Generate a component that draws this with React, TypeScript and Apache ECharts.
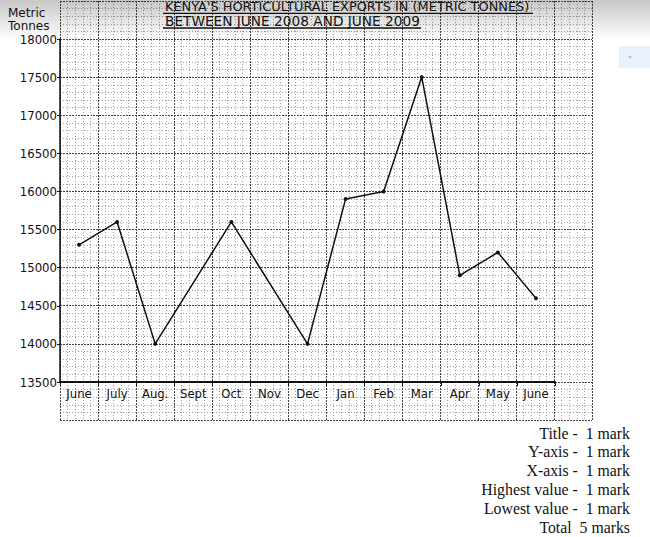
import React, { useEffect, useRef } from "react";
import * as echarts from "echarts";

const months = ["June", "July", "Aug.", "Sept", "Oct", "Nov", "Dec", "Jan", "Feb", "Mar", "Apr", "May", "June"];
const exports: (number | null)[] = [15300, 15600, 14000, null, 15600, null, 14000, 15900, 16000, 17500, 14900, 15200, 14600];
const yTicks = { min: 13500, max: 18000, step: 500 };
const titleLines = ["KENYA'S HORTICULTURAL EXPORTS IN (METRIC TONNES)", "BETWEEN JUNE 2008 AND JUNE 2009"];
const yAxisName = ["Metric", "Tonnes"];
const markLines = ["Title -  1 mark", "Y-axis -  1 mark", "X-axis -  1 mark", "Highest value -  1 mark", "Lowest value -  1 mark", "Total  5 marks"];

const FONT = "'DejaVu Sans Condensed', 'DejaVu Sans', sans-serif";
const TFONT = "'DejaVu Sans', sans-serif";

export default function App() {
  const ref = useRef<HTMLDivElement>(null);
  useEffect(() => {
    if (!ref.current) return;
    const chart = echarts.init(ref.current, null, { renderer: "svg" });
    const graphics: any[] = [
      {
        type: "rect",
        shape: { x: 0, y: 0, width: 650, height: 40 },
        style: {
          fill: new echarts.graphic.LinearGradient(0, 0, 0, 1, [
            { offset: 0, color: "rgba(0,0,0,0.22)" },
            { offset: 1, color: "rgba(0,0,0,0)" },
          ]),
        },
        z: 10,
        silent: true,
      },
      {
        type: "rect",
        shape: { x: 619, y: 46, width: 31, height: 22 },
        style: { fill: "#e9f1fb" },
        z: 10,
      },
      { type: "circle", shape: { cx: 630, cy: 57, r: 1.5 }, style: { fill: "#b8c4d2" }, z: 11 },
      {
        type: "text",
        x: 165,
        y: 6.6,
        style: { text: titleLines[0], font: `12.9px ${TFONT}`, fill: "#111", verticalAlign: "middle" },
        z: 12,
      },
      { type: "line", shape: { x1: 163, y1: 13.3, x2: 533, y2: 13.3 }, style: { stroke: "#111", lineWidth: 1.3 }, z: 12 },
      {
        type: "text",
        x: 165,
        y: 20.6,
        style: { text: titleLines[1], font: `13.7px ${TFONT}`, fill: "#111", verticalAlign: "middle" },
        z: 12,
      },
      { type: "line", shape: { x1: 163, y1: 28, x2: 421, y2: 28 }, style: { stroke: "#111", lineWidth: 1.3 }, z: 12 },
      ...yAxisName.map((t, i) => ({
        type: "text",
        x: 8,
        y: 13 + i * 13,
        style: { text: t, font: `12px ${TFONT}`, fill: "#111", verticalAlign: "middle" },
        z: 12,
      })),
      ...markLines.map((t, i) => ({
        type: "text",
        x: 630,
        y: 433 + i * 18.8,
        style: {
          text: t,
          font: "15.8px 'Liberation Serif', 'Times New Roman', serif",
          fill: "#111",
          align: "right",
          verticalAlign: "middle",
        },
        z: 12,
      })),
    ];

    chart.setOption({
      animation: false,
      backgroundColor: "#fff",
      grid: [
        { left: 60, right: 95, top: 39, bottom: 155 },
        { left: 60, width: 532, top: 1, height: 419 },
      ],
      xAxis: [
        {
          type: "category",
          gridIndex: 0,
          data: months,
          boundaryGap: true,
          axisLine: { lineStyle: { color: "#111", width: 2 } },
          axisTick: { show: true, length: 4, lineStyle: { color: "#111" } },
          axisLabel: { color: "#111", fontFamily: FONT, fontSize: 13, margin: 5, interval: 0 },
          splitLine: { show: false },
        },
        {
          type: "value",
          gridIndex: 1,
          min: 0,
          max: 14,
          interval: 1,
          axisLine: { show: false },
          axisTick: { show: false },
          axisLabel: { show: false },
          minorTick: { show: true, splitNumber: 5, length: 0 },
          splitLine: { show: true, lineStyle: { color: "#444", type: [2, 1], width: 1 } },
          minorSplitLine: { show: true, lineStyle: { color: "#a0a0a0", type: [1, 2], width: 1 } },
        },
      ],
      yAxis: [
        {
          type: "value",
          gridIndex: 0,
          min: yTicks.min,
          max: yTicks.max,
          interval: yTicks.step,
          axisLine: { show: true, lineStyle: { color: "#111", width: 1.5 } },
          axisTick: { show: true, length: 3, lineStyle: { color: "#111" } },
          axisLabel: { color: "#111", fontFamily: FONT, fontSize: 13, margin: 3, formatter: (v: number) => String(v) },
          splitLine: { show: false },
        },
        {
          type: "value",
          gridIndex: 1,
          min: 0,
          max: 11,
          interval: 1,
          axisLine: { show: false },
          axisTick: { show: false },
          axisLabel: { show: false },
          minorTick: { show: true, splitNumber: 5, length: 0 },
          splitLine: { show: true, lineStyle: { color: "#444", type: [2, 1], width: 1 } },
          minorSplitLine: { show: true, lineStyle: { color: "#a0a0a0", type: [1, 2], width: 1 } },
        },
      ],
      series: [
        {
          type: "scatter",
          xAxisIndex: 1,
          yAxisIndex: 1,
          data: [],
          silent: true,
        },
        {
          type: "line",
          xAxisIndex: 0,
          yAxisIndex: 0,
          data: exports,
          connectNulls: true,
          symbol: "circle",
          symbolSize: 4,
          lineStyle: { color: "#111", width: 1.5 },
          itemStyle: { color: "#111" },
          z: 5,
        },
      ],
      graphic: graphics,
    });
    return () => chart.dispose();
  }, []);
  return <div ref={ref} style={{ width: 650, height: 537, position: "absolute", left: 0, top: 0 }} />;
}
